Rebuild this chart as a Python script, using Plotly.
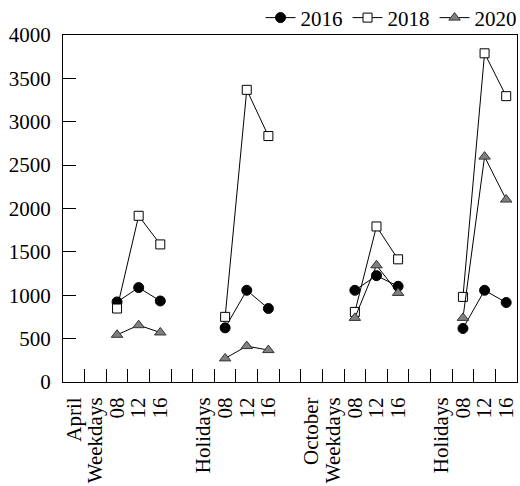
import plotly.graph_objects as go

# slot labels along the x axis (21 slots)
x_labels = ["April", "Weekdays", "08", "12", "16", "",
            "Holidays", "08", "12", "16", "",
            "October", "Weekdays", "08", "12", "16", "",
            "Holidays", "08", "12", "16"]

# slot positions of the four groups (08, 12, 16)
group_slots = [[2, 3, 4], [7, 8, 9], [13, 14, 15], [18, 19, 20]]

v2016 = [[923, 1088, 934], [624, 1057, 847], [1057, 1226, 1103], [617, 1057, 916]]
v2018 = [[847, 1916, 1586], [751, 3368, 2835], [808, 1793, 1414], [981, 3789, 3295]]
v2020 = [[544, 655, 571], [272, 414, 368], [739, 1345, 1027], [739, 2598, 2103]]

y_ticks = [0, 500, 1000, 1500, 2000, 2500, 3000, 3500, 4000]


def flatten(groups):
    xs, ys = [], []
    for slots, vals in zip(group_slots, groups):
        xs += slots + [None]
        ys += vals + [None]
    return xs, ys


fig = go.Figure()
styles = [
    ("2016", v2016, dict(symbol="circle", size=10, color="black", line=dict(color="black", width=1))),
    ("2018", v2018, dict(symbol="square", size=9, color="white", line=dict(color="black", width=1))),
    ("2020", v2020, dict(symbol="triangle-up", size=10, color="#808080", line=dict(color="#333333", width=1))),
]
for name, vals, marker in styles:
    xs, ys = flatten(vals)
    fig.add_trace(go.Scatter(x=xs, y=ys, name=name, mode="lines+markers",
                             line=dict(color="black", width=1), marker=marker,
                             connectgaps=False))

fig.update_layout(
    width=520, height=486,
    margin=dict(l=63, r=3, t=35, b=104, autoexpand=False),
    paper_bgcolor="white", plot_bgcolor="white",
    font=dict(family="Liberation Serif", size=21, color="black"),
    showlegend=True,
    legend=dict(orientation="h", x=1.01, xanchor="right", y=0.99, yanchor="bottom",
                itemwidth=30, font=dict(size=21), bgcolor="rgba(0,0,0,0)",
                tracegroupgap=0, borderwidth=0),
)
fig.update_xaxes(
    range=[-0.5, 20.5], tickmode="array", tickvals=list(range(21)), ticktext=x_labels,
    tickangle=-90, ticks="", showgrid=False, zeroline=False, ticklabelstandoff=6,
    showline=True, linecolor="black", linewidth=1, mirror=True,
    minor=dict(tickmode="array", tickvals=[i + 0.5 for i in range(20)],
               ticks="inside", ticklen=13, tickcolor="black", tickwidth=1, showgrid=False),
)
fig.update_yaxes(
    range=[0, 4000], tickmode="array", tickvals=y_ticks,
    ticks="inside", ticklen=13, tickcolor="black", tickwidth=1,
    showgrid=False, zeroline=False, ticklabelstandoff=7,
    showline=True, linecolor="black", linewidth=1, mirror=True,
)

fig.write_html("out.html", config={"displayModeBar": False},
               post_script="document.body.style.margin='0';document.body.style.overflow='hidden';")
